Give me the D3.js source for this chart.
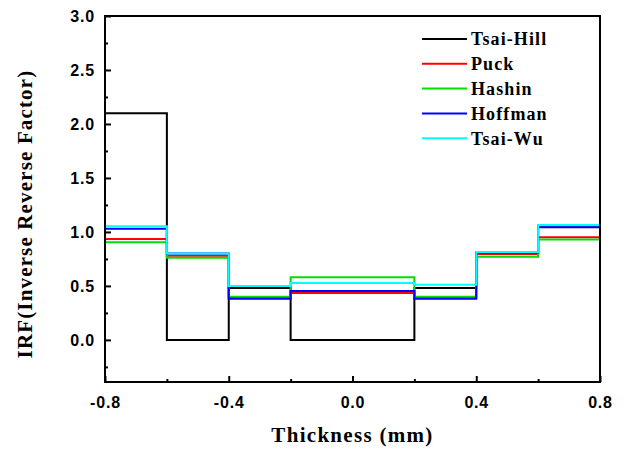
<!DOCTYPE html>
<html>
<head>
<meta charset="utf-8">
<script src="https://cdn.jsdelivr.net/npm/d3@7"></script>
<style>
  body { margin: 0; background: #fff; }
  .tick text { font-family: "Liberation Sans", Arial, sans-serif; font-weight: bold; font-size: 16px; letter-spacing: 0.8px; }
</style>
</head>
<body>
<div id="chart"></div>
<script>
// layer boundaries through the thickness (mm)
const bounds = [-0.8, -0.6, -0.4, -0.2, 0.2, 0.4, 0.6, 0.8];

// IRF value for each layer
const tsaiHill = [2.10, 0.00, 0.48, 0.00, 0.48, 0.81, 1.06];
const puck     = [0.935, 0.78, 0.39, 0.435, 0.39, 0.795, 0.95];
const hashin   = [0.905, 0.76, 0.40, 0.58, 0.40, 0.77, 0.93];
const hoffman  = [1.03, 0.80, 0.38, 0.452, 0.38, 0.81, 1.043];
const tsaiWu   = [1.052, 0.80, 0.50, 0.526, 0.51, 0.815, 1.065];

const seriesNames = ["Tsai-Hill", "Puck", "Hashin", "Hoffman", "Tsai-Wu"];
const seriesColors = ["#000000", "#ff0000", "#00e000", "#0000ff", "#00ffff"];
const seriesValues = [tsaiHill, puck, hashin, hoffman, tsaiWu];

const xTicks = [-0.8, -0.4, 0.0, 0.4, 0.8];
const yTicks = [0.0, 0.5, 1.0, 1.5, 2.0, 2.5, 3.0];

const W = 627, H = 450;
const margin = ({ top: 16, right: 27, bottom: 68, left: 105 });
const width = W - margin.left - margin.right;
const height = H - margin.top - margin.bottom;

const serif = "'Liberation Serif', 'Times New Roman', serif";

const svg = d3.select("#chart").append("svg")
    .attr("width", W)
    .attr("height", H);

const g = svg.append("g")
    .attr("transform", "translate(" + margin.left + "," + margin.top + ")");

const x = d3.scaleLinear().domain([-0.8, 0.8]).range([0, width]);
const y = d3.scaleLinear().domain([-0.39, 3.0]).range([height, 0]);

// step lines
const line = d3.line()
    .x(d => x(d[0]))
    .y(d => y(d[1]))
    .curve(d3.curveStepAfter);

seriesValues.forEach(function (vals, i) {
    const pts = bounds.map((b, j) => [b, vals[Math.min(j, vals.length - 1)]]);
    g.append("path")
        .datum(pts)
        .attr("fill", "none")
        .attr("stroke", seriesColors[i])
        .attr("stroke-width", 2)
        .attr("d", line);
});

// frame
g.append("rect")
    .attr("width", width)
    .attr("height", height)
    .attr("fill", "none")
    .attr("stroke", "#000")
    .attr("stroke-width", 2);

const fmt = d => d.toFixed(1);

// axes with inward ticks
const xAxis = g.append("g")
    .attr("transform", "translate(0," + height + ")")
    .call(d3.axisBottom(x).tickValues(xTicks).tickFormat(fmt).tickSizeInner(-6).tickSizeOuter(0).tickPadding(15));
xAxis.select(".domain").remove();
xAxis.selectAll(".tick line").attr("stroke-width", 2);

g.append("g")
    .attr("transform", "translate(0," + height + ")")
    .call(d3.axisBottom(x).tickValues([-0.6, -0.2, 0.2, 0.6]).tickFormat("").tickSizeInner(-3).tickSizeOuter(0))
    .call(a => a.select(".domain").remove())
    .selectAll(".tick line").attr("stroke-width", 2);

const yAxis = g.append("g")
    .call(d3.axisLeft(y).tickValues(yTicks).tickFormat(fmt).tickSizeInner(-6).tickSizeOuter(0).tickPadding(10));
yAxis.select(".domain").remove();
yAxis.selectAll(".tick line").attr("stroke-width", 2);

g.append("g")
    .call(d3.axisLeft(y).tickValues([-0.25, 0.25, 0.75, 1.25, 1.75, 2.25, 2.75]).tickFormat("").tickSizeInner(-3).tickSizeOuter(0))
    .call(a => a.select(".domain").remove())
    .selectAll(".tick line").attr("stroke-width", 2);

// axis titles
svg.append("text")
    .attr("x", margin.left + width / 2)
    .attr("y", 442)
    .attr("text-anchor", "middle")
    .style("font-family", serif)
    .style("font-weight", "bold")
    .style("font-size", "21px")
    .style("letter-spacing", "1.3px")
    .text("Thickness (mm)");

svg.append("text")
    .attr("transform", "translate(32,214) rotate(-90)")
    .attr("text-anchor", "middle")
    .style("font-family", serif)
    .style("font-weight", "bold")
    .style("font-size", "21px")
    .style("letter-spacing", "1.15px")
    .text("IRF(Inverse Reverse Factor)");

// legend
const legend = svg.append("g").attr("transform", "translate(422,39)");
seriesNames.forEach(function (name, i) {
    const row = legend.append("g").attr("transform", "translate(0," + i * 24.8 + ")");
    row.append("line")
        .attr("x1", 0).attr("x2", 45)
        .attr("stroke", seriesColors[i])
        .attr("stroke-width", 2);
    row.append("text")
        .attr("x", 49)
        .attr("dy", "0.35em")
        .style("font-family", serif)
        .style("font-weight", "bold")
        .style("font-size", "18px")
        .style("letter-spacing", "1.1px")
        .text(name);
});
</script>
</body>
</html>
